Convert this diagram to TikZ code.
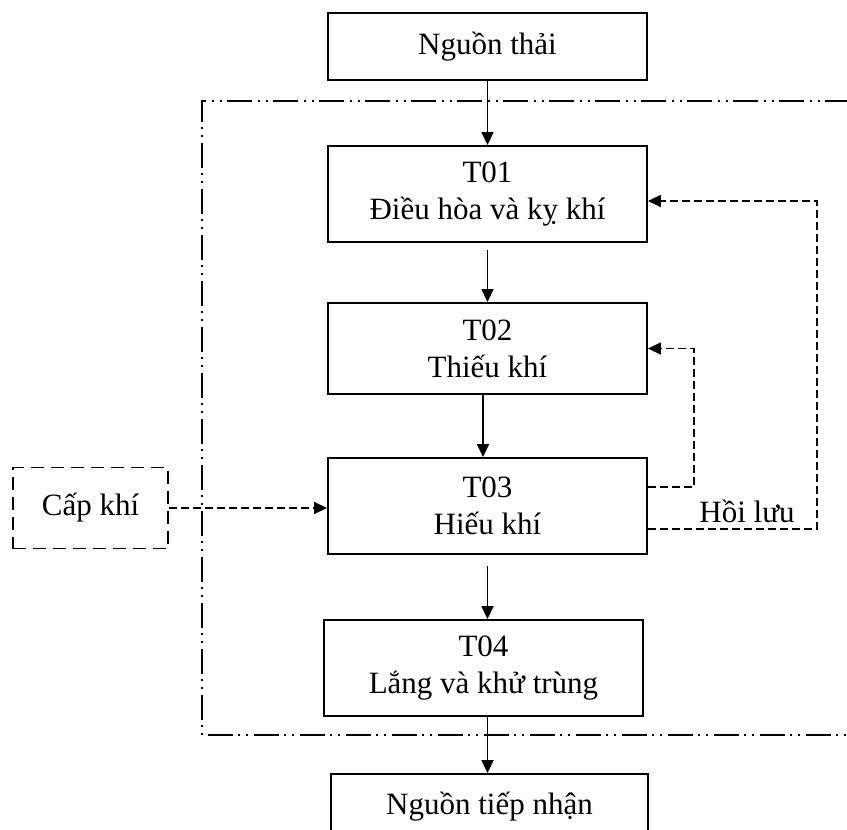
\documentclass[tikz,border=0pt]{standalone}
\usepackage{fontspec}
\setmainfont{Liberation Serif}
\usetikzlibrary{arrows.meta}
\begin{document}
\begin{tikzpicture}[x=1pt,y=-1pt,
  txt/.style={font=\fontsize{31}{37}\selectfont},
  box/.style={txt,draw,line width=1.9pt,inner sep=0pt,align=center,minimum width=319pt},
  dbox/.style={txt,draw,line width=1.5pt,inner sep=0pt,align=center,dash pattern=on 13pt off 7pt},
  arr/.style={line width=1.8pt,-{Triangle[length=13pt,width=12pt]}},
  dsh/.style={line width=1.5pt,dash pattern=on 8pt off 4pt},
  frame/.style={line width=1.5pt,dash pattern=on 25pt off 5pt on 2pt off 6pt on 2pt off 6pt}]
\useasboundingbox (0,0) rectangle (847,830);
% frame
\draw[frame] (850,101) -- (202,101) -- (202,735) -- (850,735);
% boxes
\node[box,minimum height=67pt] (src) at (487.5,46.5) {Nguồn thải};
\node[box,minimum height=96pt] (t01) at (487.5,194) {T01\\Điều hòa và kỵ khí};
\node[box,minimum height=91pt] (t02) at (487.5,348.5) {T02\\Thiếu khí};
\node[box,minimum height=96pt] (t03) at (487.5,506) {T03\\Hiếu khí};
\node[box,minimum height=96pt] (t04) at (483.5,668) {T04\\Lắng và khử trùng};
\node[box,minimum width=317pt,minimum height=66pt] (dst) at (489.5,807) {Nguồn tiếp nhận};
\node[dbox,minimum width=155pt,minimum height=81pt] (cap) at (90.5,508) {Cấp khí};
\node[txt,anchor=base] (hl) at (747,522) {Hồi lưu};
% main flow
\draw[arr] (src.south) -- (t01.north);
\draw[arr] ([yshift=-7pt]t01.south) -- (t02.north);
\draw[arr] ([xshift=-4.5pt]t02.south) -- ([xshift=-4.5pt]t03.north);
\draw[arr] ([yshift=-11pt]t03.south) -- (t03.south |- t04.north);
\draw[arr] ([xshift=4pt]t04.south) -- ([xshift=4pt]t04.south |- dst.north);
% air supply
\draw[dsh,arr] (cap.east) -- (cap.east -| t03.west);
% recirculation
\draw[dsh,arr] ([yshift=19pt]t03.east) -- ++(46,0) |- (t02.east);
\draw[dsh,arr] ([yshift=-23pt]t03.east) -- ++(169,0) |- ([yshift=-7pt]t01.east);
\end{tikzpicture}
\end{document}
